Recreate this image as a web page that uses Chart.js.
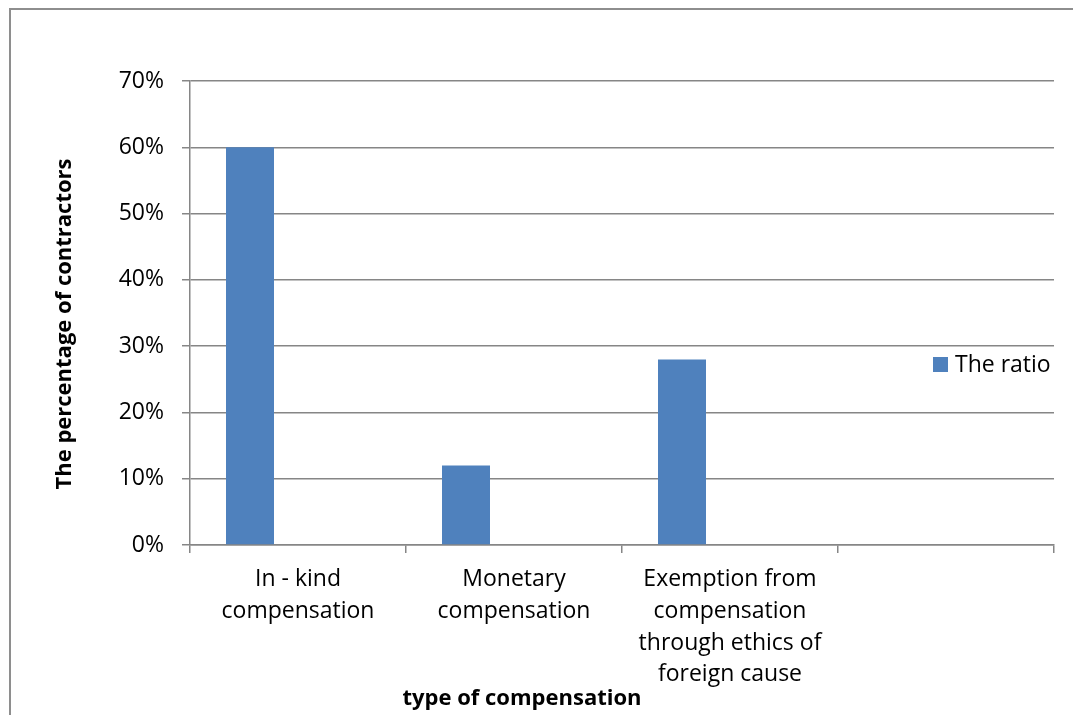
<!DOCTYPE html>
<html>
<head>
<meta charset="utf-8">
<script src="https://cdn.jsdelivr.net/npm/chart.js@4.4.0/dist/chart.umd.min.js"></script>
<style>
html,body{margin:0;padding:0;background:#fff;overflow:hidden}
canvas{display:block}
</style>
</head>
<body>
<canvas id="c" width="1073" height="715"></canvas>
<script>
// ---- data ----
const categories = [
  ["In - kind", "compensation"],
  ["Monetary", "compensation"],
  ["Exemption from", "compensation", "through ethics of", "foreign cause"],
  ""
];
const seriesName = "The ratio";
const ratioValues = [0.60, 0.12, 0.28, null];
const emptySeries2 = [null, null, null, null];
const emptySeries3 = [null, null, null, null];
const yTickLabels = ["0%", "10%", "20%", "30%", "40%", "50%", "60%", "70%"];
const yTitle = "The percentage of contractors";
const xTitle = "type of compensation";

// ---- styles ----
const FONT = '"Open Sans", "Liberation Sans", sans-serif';
const BAR_COLOR = '#4F81BD';
const GRID = '#868686';

const decoPlugin = {
  id: 'deco',
  beforeDraw(chart) {
    const ctx = chart.ctx;
    ctx.save();
    ctx.fillStyle = '#fff';
    ctx.fillRect(0, 0, chart.width, chart.height);
    ctx.restore();
  },
  afterDraw(chart) {
    const ctx = chart.ctx;
    ctx.save();
    // outer frame
    ctx.strokeStyle = '#8e8e8e';
    ctx.lineWidth = 2;
    ctx.strokeRect(10, 9, 3000, 3000);
    // y axis title
    ctx.fillStyle = '#000';
    ctx.font = 'bold 22px ' + FONT;
    ctx.textAlign = 'center';
    ctx.textBaseline = 'alphabetic';
    ctx.save();
    ctx.translate(71, 324);
    ctx.rotate(-Math.PI / 2);
    ctx.fillText(yTitle, 0, 0);
    ctx.restore();
    // x axis title
    ctx.fillText(xTitle, 522, 705);
    // legend
    const ds = chart.data.datasets[0];
    ctx.fillStyle = ds.backgroundColor;
    ctx.fillRect(933, 357, 15, 15);
    ctx.fillStyle = '#000';
    ctx.font = '23px ' + FONT;
    ctx.textAlign = 'left';
    ctx.fillText(ds.label, 955, 372);
    ctx.restore();
  }
};

new Chart(document.getElementById('c'), {
  type: 'bar',
  data: {
    labels: categories,
    datasets: [
      { label: seriesName, data: ratioValues, backgroundColor: BAR_COLOR, borderWidth: 0 },
      { label: '', data: emptySeries2, backgroundColor: BAR_COLOR, borderWidth: 0 },
      { label: '', data: emptySeries3, backgroundColor: BAR_COLOR, borderWidth: 0 }
    ]
  },
  options: {
    responsive: false,
    animation: false,
    events: [],
    devicePixelRatio: 1,
    categoryPercentage: 2 / 3,
    barPercentage: 1,
    layout: { padding: { left: 0, top: 81, right: 19, bottom: 0 } },
    plugins: {
      legend: { display: false },
      tooltip: { enabled: false },
      title: { display: false }
    },
    scales: {
      x: {
        grid: {
          display: true,
          drawOnChartArea: false,
          drawTicks: true,
          tickLength: 8,
          offset: true,
          color: GRID,
          lineWidth: 1.5
        },
        border: { display: true, color: GRID, width: 1.5 },
        ticks: {
          color: '#000',
          font: { family: FONT, size: 23, lineHeight: 31.7 / 23 },
          padding: 11,
          maxRotation: 0,
          minRotation: 0,
          autoSkip: false
        },
        afterFit(scale) { scale.height = 715 - 545; }
      },
      y: {
        min: 0,
        max: 0.7,
        ticks: {
          stepSize: 0.1,
          color: '#000',
          font: { family: FONT, size: 23 },
          padding: 18,
          callback: (v, i) => yTickLabels[i]
        },
        grid: {
          color: GRID,
          lineWidth: 1.5,
          tickLength: 8,
          drawTicks: true
        },
        border: { display: true, color: GRID, width: 1.5 },
        afterFit(scale) { scale.width = 190; }
      }
    }
  },
  plugins: [decoPlugin]
});
</script>
</body>
</html>
